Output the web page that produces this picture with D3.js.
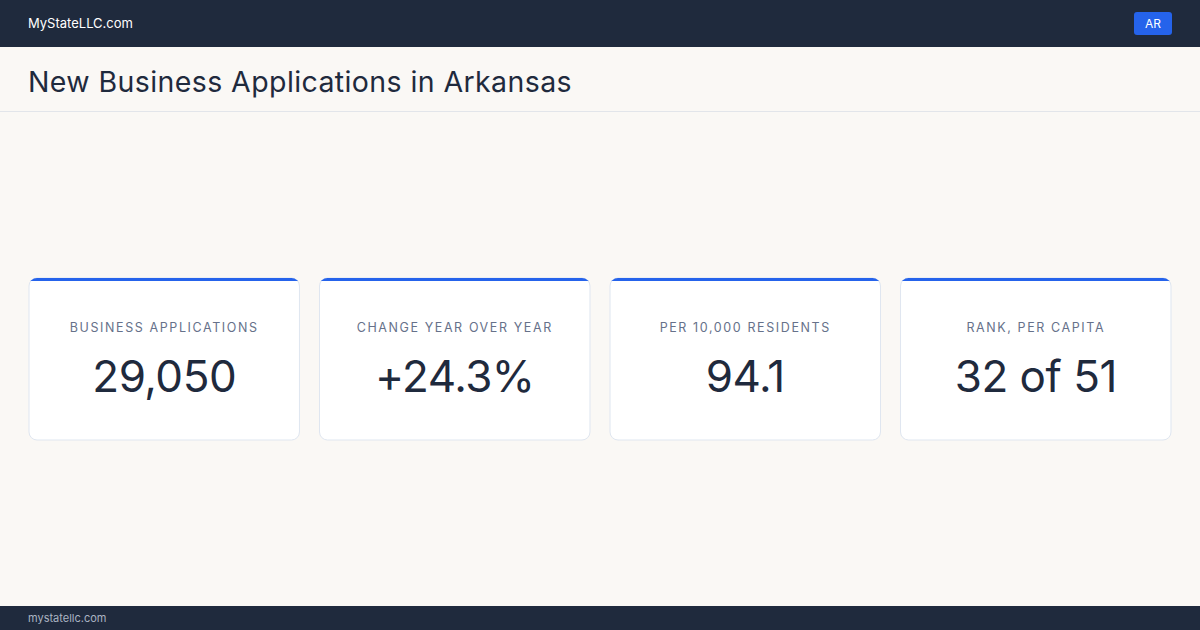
<!DOCTYPE html>
<html><head><meta charset="utf-8">
<script src="https://cdn.jsdelivr.net/npm/d3@7"></script>
<style>body{margin:0;background:#faf8f5}svg{display:block;font-family:Inter,"Noto Sans",sans-serif}</style>
</head><body><svg id="c" width="1200" height="630"></svg>
<script>
const labels = ["BUSINESS APPLICATIONS", "CHANGE YEAR OVER YEAR", "PER 10,000 RESIDENTS", "RANK, PER CAPITA"];
const values = ["29,050", "+24.3%", "94.1", "32 of 51"];

const svg = d3.select("#c");
svg.append("rect").attr("width", 1200).attr("height", 630).attr("fill", "#faf8f5");

// header bar
svg.append("rect").attr("width", 1200).attr("height", 47).attr("fill", "#1f2a3d");
svg.append("text").attr("x", 28).attr("y", 28).attr("fill", "#fff").attr("font-size", 13).text("MyStateLLC.com");
svg.append("rect").attr("x", 1134).attr("y", 12).attr("width", 38).attr("height", 23).attr("rx", 3).attr("fill", "#2563eb");
svg.append("text").attr("x", 1153).attr("y", 28).attr("text-anchor", "middle").attr("fill", "#fff").attr("font-size", 12).text("AR");

// title
svg.append("text").attr("x", 28).attr("y", 92).attr("fill", "#1f2a3d").attr("font-size", 28.5)
  .attr("letter-spacing", 0.4).text("New Business Applications in Arkansas");
svg.append("line").attr("x1", 0).attr("x2", 1200).attr("y1", 111.5).attr("y2", 111.5).attr("stroke", "#e2e5ea");

// footer
svg.append("rect").attr("y", 606).attr("width", 1200).attr("height", 24).attr("fill", "#1f2a3d");
svg.append("text").attr("x", 28).attr("y", 622).attr("fill", "#aab3c2").attr("font-size", 11).text("mystatellc.com");

// cards
const x = d3.scaleBand().domain(labels).range([29, 1171]).paddingInner(0.069);
const cardTop = 278, cardH = 162;
const g = svg.selectAll(".card").data(labels).enter().append("g").attr("class", "card")
  .attr("transform", d => `translate(${x(d)},${cardTop})`);

g.append("clipPath").attr("id", (d, i) => "cp" + i)
  .append("rect").attr("width", x.bandwidth()).attr("height", cardH).attr("rx", 8);
g.append("rect").attr("width", x.bandwidth()).attr("height", cardH).attr("rx", 8)
  .attr("fill", "#fff").attr("stroke", "#dfe6f0");
g.append("rect").attr("clip-path", (d, i) => `url(#cp${i})`)
  .attr("width", x.bandwidth()).attr("height", 3).attr("fill", "#2563eb");
g.append("text").attr("x", x.bandwidth() / 2).attr("y", 54).attr("text-anchor", "middle")
  .attr("fill", "#66718a").attr("font-size", 12.5).attr("letter-spacing", 1.6).text(d => d);
g.append("text").attr("x", x.bandwidth() / 2).attr("y", 114).attr("text-anchor", "middle")
  .attr("fill", "#1f2a3d").attr("font-size", 44).attr("letter-spacing", -0.5).text((d, i) => values[i]);
</script></body></html>
